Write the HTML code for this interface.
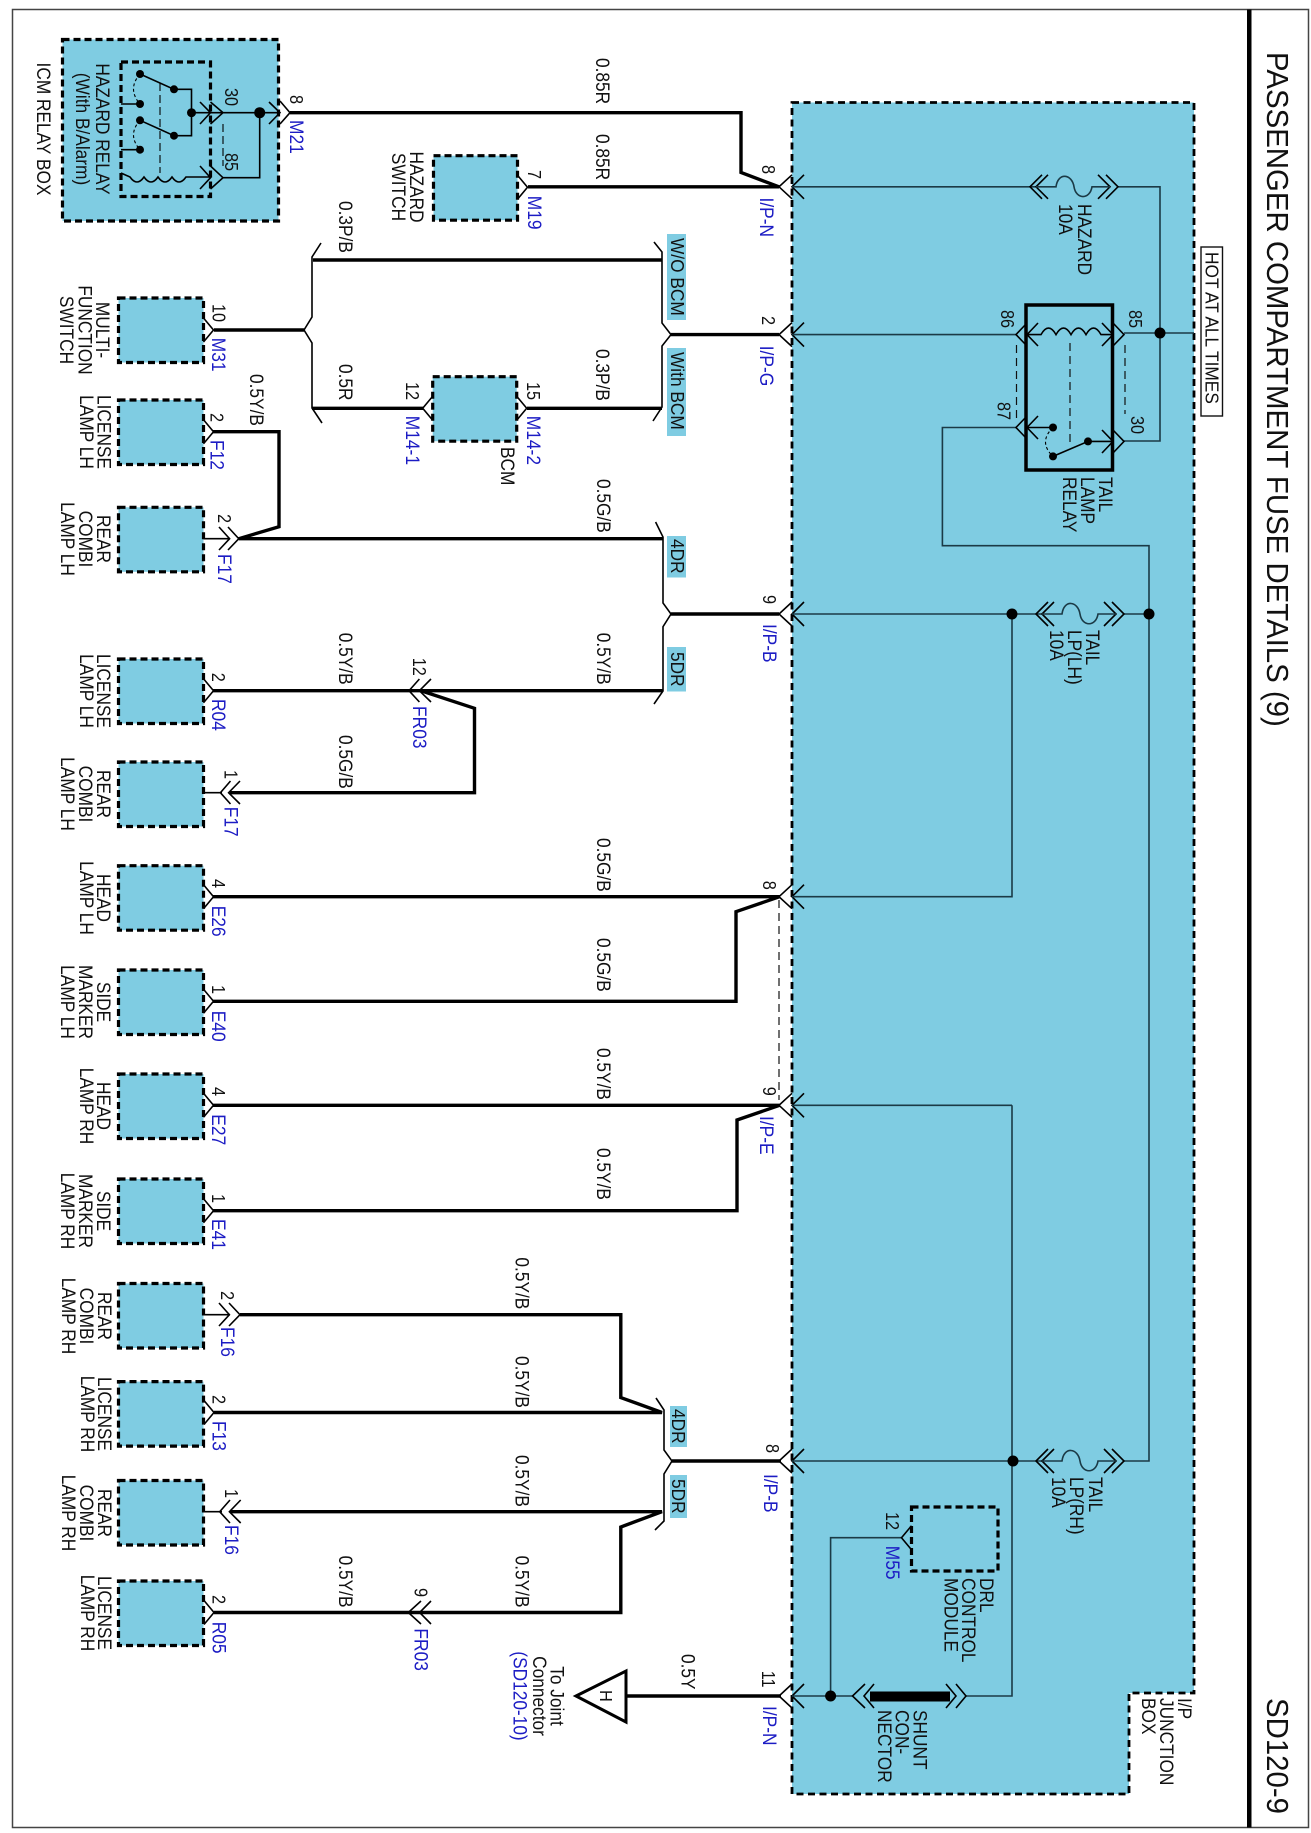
<!DOCTYPE html>
<html><head><meta charset="utf-8"><style>
html,body{margin:0;padding:0;background:#fff}
svg{display:block}
text{font-family:"Liberation Sans",sans-serif;font-size:17.3px;fill:#111}
.s{font-size:16.3px}
.b{font-size:17.4px;fill:#1c1cc4}
.m{text-anchor:middle}
.t{font-size:29.4px}
.w{fill:none;stroke:#000;stroke-width:3.4;stroke-linejoin:miter}
.c{fill:none;stroke:#000;stroke-width:1.6}
.n{fill:none;stroke:#1b3a46;stroke-width:1.6}
.h{fill:none;stroke:#111;stroke-width:1.2;stroke-dasharray:8 5}
.k{fill:none;stroke:#000;stroke-width:3.2;stroke-dasharray:7 4}
.q{fill:#7fcce2;stroke:#000;stroke-width:3.2;stroke-dasharray:7 4}
.f{fill:#7fcce2}
</style></head><body>
<svg width="1311" height="1833" viewBox="0 0 1311 1833" xmlns="http://www.w3.org/2000/svg">
<defs>
<g id="ip" class="c"><path class="c" d="M792,-12 L779,0 L792,12 M804,-12 L792,0 L804,12"/></g>
<path id="cr" class="c" d="M0,-12 L10,0 L0,12"/>
<path id="cl" class="c" d="M0,-12 L-10,0 L0,12"/>
<g id="fu">
<path class="c" d="M12,-12 L0,0 L12,12 M18,-12 L6,0 L18,12 M68,-12 L80,0 L68,12 M76,-12 L88,0 L76,12"/>
<path class="n" d="M6,0 H26 C28,-15 42,-13 44,0 C46,13 60,13 62,0 H80"/>
</g>
</defs>
<rect width="1311" height="1833" fill="#fff"/>
<rect x="12.5" y="9.5" width="1296" height="1818" fill="none" stroke="#444" stroke-width="1.5"/>
<rect x="1247" y="9.5" width="4.5" height="1818" fill="#000"/>
<text class="t" transform="matrix(0 1 -1.05 0 1267 52)">PASSENGER COMPARTMENT FUSE DETAILS (9)</text>
<text class="t" transform="matrix(0 1 -1.05 0 1267 1698)">SD120-9</text>

<!-- main box -->
<path d="M792,102.5 H1194 V1693 H1129 V1794 H792 Z" fill="#7fcce2" stroke="#000" stroke-width="2.8" stroke-dasharray="7 4.5"/>

<!-- ICM -->
<rect x="62.5" y="39.5" width="216" height="181.5" class="q"/>
<rect x="121" y="62" width="89.5" height="134.5" class="k"/>
<g fill="#000">
<circle cx="140" cy="74" r="4"/><circle cx="174" cy="89.3" r="4"/><circle cx="140" cy="104" r="4"/><circle cx="191.5" cy="112.7" r="4.5"/><circle cx="140" cy="120.3" r="4"/><circle cx="174" cy="135.7" r="4"/><circle cx="140" cy="149.7" r="4"/><circle cx="259.7" cy="112.7" r="5.5"/>
</g>
<path class="c" d="M140,74 L174,89.3 H191.5 V135.7 H174 L140,120.3 M121,104 H140 M121,149.7 H140 M191.5,112.7 H280 M223,177.7 H259.7 V112.7 M200,102 L210.5,112.7 L200,124 M210.5,102 L223,112.7 L210.5,124 M200,166 L210.5,177.7 L200,189 M210.5,166 L223,177.7 L210.5,189 M269,102 L280,112.7 L269,124 M280,101 L290,112.7 L280,124 M121,173 L130,177 q7,10 14,0 q7,10 14,0 q7,10 14,0 q7,10 14,0 H210"/>
<path fill="none" stroke="#000" stroke-width="1.1" stroke-dasharray="3 2.5" d="M140,74 Q127,89 140,104 M140,120.3 Q127,135 140,149.7"/>
<path fill="none" stroke="#000" stroke-width="1.1" stroke-dasharray="8 4" d="M160,83 V173 M223,124 V166"/>
<text class="s" transform="matrix(0 1 -1.12 0 225 88)">30</text>
<text class="s" transform="matrix(0 1 -1.12 0 225 153)">85</text>
<text class="s" transform="matrix(0 1 -1.12 0 290 95)">8</text>
<text class="b" transform="matrix(0 1 -1.12 0 290 120)">M21</text>
<text class="m" transform="matrix(0 1 -1.12 0 96 129)">HAZARD RELAY</text>
<text class="m" transform="matrix(0 1 -1.12 0 76 129)">(With B/Alarm)</text>
<text class="m" transform="matrix(0 1 -1.12 0 37 129)">ICM RELAY BOX</text>

<!-- thick wires -->
<path class="w" d="M290,112.7 H741 V172.5 L779,186.8 H528"/>
<path class="w" d="M313,260 H662"/>
<path class="w" d="M214,330 H304"/>
<path class="w" stroke-width="2.6" d="M312,408.3 H423"/>
<path class="w" d="M527,408.3 H662"/>
<path class="w" d="M671,334.6 H779"/>
<path class="w" d="M213,431.7 H279 V526.7 L238.8,538.7 H663"/>
<path class="w" d="M671,614 H779"/>
<path class="w" d="M213,690.7 H663"/>
<path class="w" d="M421,690.7 L474.5,708.3 V792.7 H230"/>
<path class="w" d="M213,896.7 H779.6 L736,911.7 V1001.3 H213"/>
<path class="w" d="M213,1105.3 H779.6 L737,1120 V1210.7 H213"/>
<path class="w" d="M240,1314.7 H620.8 V1397.6 L662,1412.5 H214"/>
<path class="w" d="M230,1511.7 H662 L620.8,1527 V1612.5 H214"/>
<path class="w" d="M672,1461 H781"/>
<path class="w" d="M626,1696 H781"/>
<path class="c" stroke-width="1.8" d="M203,538.7 H230 M203,792.7 H222 M203,1314.7 H230 M203,1511.7 H222"/>

<!-- forks -->
<path class="c" stroke-width="2" d="M321,243 L312,257 V317 L304,330 L312,343 V408 L322,423"/>
<path class="c" stroke-width="2" d="M654,242 L662,252 V323 L671,334.6 L662,346 V407 L653,421"/>
<path class="c" stroke-width="2" d="M655.6,522 L663,537 V603 L671,614 L663,626.7 V691 L654,704"/>
<path class="c" stroke-width="2" d="M656,1398 L664,1410 V1450 L672,1461 L664,1474 V1521 L655,1530"/>

<!-- tags -->
<rect x="667" y="234" width="19" height="86" class="f"/>
<rect x="667" y="348" width="19" height="88" class="f"/>
<rect x="667" y="536" width="19" height="41.5" class="f"/>
<rect x="667" y="647" width="19" height="44.5" class="f"/>
<rect x="670" y="1406" width="17" height="41" class="f"/>
<rect x="670" y="1475" width="17" height="43" class="f"/>
<text transform="matrix(0 1 -1.05 0 671 238)">W/O BCM</text>
<text transform="matrix(0 1 -1.05 0 671 352)">With BCM</text>
<text transform="matrix(0 1 -1.05 0 671 539)">4DR</text>
<text transform="matrix(0 1 -1.05 0 671 652)">5DR</text>
<text transform="matrix(0 1 -1.05 0 672 1409)">4DR</text>
<text transform="matrix(0 1 -1.05 0 672 1479)">5DR</text>

<!-- I/P connectors -->
<use href="#ip" y="186.8"/><use href="#ip" y="334.6"/><use href="#ip" y="614"/><use href="#ip" y="896.7"/><use href="#ip" y="1105.3"/><use href="#ip" y="1461"/><use href="#ip" y="1696"/>
<path class="h" d="M779,900 V1100"/>

<!-- inner thin wires -->
<path class="n" d="M792,186.8 H1036 M1118,186.8 H1160 V441 H1124 M792,334.6 H1016 M1124,333 H1194"/>
<path class="n" d="M1016,427.5 H942.4 V545.7 H1149 V1461 H1124 M792,614 H1042 M1124,614 H1149 M1012,614 V896.7 H792 M1012,1105.3 H792 M1012,1105.3 V1696 H966 M792,1461 H1042 M901,1537.7 H830.6 V1696 M792,1696 H852.5"/>
<use href="#fu" x="1030" y="186.8"/>
<use href="#fu" x="1036" y="614"/>
<use href="#fu" x="1036" y="1461"/>
<g fill="#000"><circle cx="1160" cy="333" r="5.5"/><circle cx="1012" cy="614" r="5.5"/><circle cx="1149" cy="614" r="5.5"/><circle cx="1013" cy="1461" r="5.5"/><circle cx="830.6" cy="1696" r="5.5"/><circle cx="1053" cy="427.5" r="4"/><circle cx="1053" cy="456.4" r="4"/><circle cx="1088" cy="441.4" r="4"/></g>

<!-- relay -->
<rect x="1026" y="305" width="86.5" height="165" fill="none" stroke="#000" stroke-width="3.5"/>
<path class="c" d="M1027,323 L1016,334.6 L1027,346 M1038,323 L1027,334.6 L1038,346 M1102,323 L1113,334.6 L1102,346 M1113,323 L1124,334.6 L1113,346 M1027,334.6 H1041 q7.5,-13 15,0 q7.5,-13 15,0 q7.5,-13 15,0 q7.5,-13 15,0 H1113"/>
<path class="c" d="M1027,416 L1016,427.5 L1027,439 M1038,416 L1027,427.5 L1038,439 M1027,427.5 H1053 M1053,456.4 L1088,441.4 H1113 M1102,430 L1113,441.4 L1102,453 M1113,430 L1124,441.4 L1113,453"/>
<path fill="none" stroke="#000" stroke-width="1.1" stroke-dasharray="3 2.5" d="M1053,427.5 Q1038,442 1053,456.4"/>
<path class="h" d="M1016.5,345 V420 M1070,343 V446 M1125,345 V414"/>
<text class="s" transform="matrix(0 1 -1.12 0 1129 310)">85</text>
<text class="s" transform="matrix(0 1 -1.12 0 1001 310)">86</text>
<text class="s" transform="matrix(0 1 -1.12 0 997.5 402)">87</text>
<text class="s" transform="matrix(0 1 -1.12 0 1131 416)">30</text>
<text transform="matrix(0 1 -1.12 0 1099 477)">TAIL</text>
<text transform="matrix(0 1 -1.12 0 1081 477)">LAMP</text>
<text transform="matrix(0 1 -1.12 0 1063 477)">RELAY</text>

<rect x="1201" y="247" width="21.5" height="169" fill="#fff" stroke="#111" stroke-width="1.4"/>
<text transform="matrix(0 1 -1.08 0 1205.5 252)">HOT AT ALL TIMES</text>

<text transform="matrix(0 1 -1.12 0 1078 204)">HAZARD</text>
<text transform="matrix(0 1 -1.12 0 1059 204)">10A</text>
<text transform="matrix(0 1 -1.12 0 1086 630)">TAIL</text>
<text transform="matrix(0 1 -1.12 0 1068 630)">LP(LH)</text>
<text transform="matrix(0 1 -1.12 0 1050 630)">10A</text>
<text transform="matrix(0 1 -1.12 0 1089 1477)">TAIL</text>
<text transform="matrix(0 1 -1.12 0 1070 1477)">LP(RH)</text>
<text transform="matrix(0 1 -1.12 0 1052 1477)">10A</text>

<!-- DRL -->
<rect x="911.5" y="1507" width="86.5" height="64" class="k"/>
<use href="#cl" x="911.5" y="1537.7"/>
<text class="s" transform="matrix(0 1 -1.12 0 886 1512)">12</text>
<text class="b" transform="matrix(0 1 -1.12 0 886 1545.7)">M55</text>
<text transform="matrix(0 1 -1.12 0 980 1578)">DRL</text>
<text transform="matrix(0 1 -1.12 0 962 1578)">CONTROL</text>
<text transform="matrix(0 1 -1.12 0 944.6 1578)">MODULE</text>

<!-- Shunt -->
<rect x="870" y="1691.5" width="80" height="10" fill="#000"/>
<path class="c" d="M865,1684 L852.5,1696 L865,1708 M874,1684 L864,1696 L874,1708 M946,1684 L956,1696 L946,1708 M956,1684 L966,1696 L956,1708"/>
<text transform="matrix(0 1 -1.12 0 913.7 1710)">SHUNT</text>
<text transform="matrix(0 1 -1.12 0 895.6 1710)">CON-</text>
<text transform="matrix(0 1 -1.12 0 878 1710)">NECTOR</text>
<text transform="matrix(0 1 -1.12 0 1178 1698)">I/P</text>
<text transform="matrix(0 1 -1.12 0 1160 1698)">JUNCTION</text>
<text transform="matrix(0 1 -1.12 0 1142 1698)">BOX</text>

<!-- I/P labels -->
<text class="s" transform="matrix(0 1 -1.12 0 762 165)">8</text><text class="b" transform="matrix(0 1 -1.12 0 760 197.5)">I/P-N</text>
<text class="s" transform="matrix(0 1 -1.12 0 762 316)">2</text><text class="b" transform="matrix(0 1 -1.12 0 760 345.7)">I/P-G</text>
<text class="s" transform="matrix(0 1 -1.12 0 763 595)">9</text><text class="b" transform="matrix(0 1 -1.12 0 763 624)">I/P-B</text>
<text class="s" transform="matrix(0 1 -1.12 0 763 880.7)">8</text>
<text class="s" transform="matrix(0 1 -1.12 0 763 1086.7)">9</text><text class="b" transform="matrix(0 1 -1.12 0 760 1116)">I/P-E</text>
<text class="s" transform="matrix(0 1 -1.12 0 766 1444)">8</text><text class="b" transform="matrix(0 1 -1.12 0 764 1474)">I/P-B</text>
<text class="s" transform="matrix(0 1 -1.12 0 762 1670.7)">11</text><text class="b" transform="matrix(0 1 -1.12 0 763 1706)">I/P-N</text>

<!-- wire labels -->
<text transform="matrix(0 1 -1.12 0 596 58)">0.85R</text>
<text transform="matrix(0 1 -1.12 0 596 134)">0.85R</text>
<text transform="matrix(0 1 -1.12 0 339 201)">0.3P/B</text>
<text transform="matrix(0 1 -1.12 0 339 364)">0.5R</text>
<text transform="matrix(0 1 -1.12 0 596 349)">0.3P/B</text>
<text transform="matrix(0 1 -1.12 0 250 374)">0.5Y/B</text>
<text transform="matrix(0 1 -1.12 0 597 479)">0.5G/B</text>
<text transform="matrix(0 1 -1.12 0 597 632.7)">0.5Y/B</text>
<text transform="matrix(0 1 -1.12 0 339 632.7)">0.5Y/B</text>
<text transform="matrix(0 1 -1.12 0 339 735)">0.5G/B</text>
<text transform="matrix(0 1 -1.12 0 597 838)">0.5G/B</text>
<text transform="matrix(0 1 -1.12 0 597 938)">0.5G/B</text>
<text transform="matrix(0 1 -1.12 0 597 1048)">0.5Y/B</text>
<text transform="matrix(0 1 -1.12 0 597 1148)">0.5Y/B</text>
<text transform="matrix(0 1 -1.12 0 515.6 1257.4)">0.5Y/B</text>
<text transform="matrix(0 1 -1.12 0 515.6 1356)">0.5Y/B</text>
<text transform="matrix(0 1 -1.12 0 515.6 1455)">0.5Y/B</text>
<text transform="matrix(0 1 -1.12 0 515.6 1555.6)">0.5Y/B</text>
<text transform="matrix(0 1 -1.12 0 339 1555.6)">0.5Y/B</text>
<text transform="matrix(0 1 -1.12 0 681.6 1654)">0.5Y</text>

<!-- hazard switch -->
<rect x="433.5" y="155.7" width="84" height="64.5" class="q"/>
<use href="#cr" x="517.5" y="187.3"/>
<text class="s" transform="matrix(0 1 -1.12 0 528 170)">7</text>
<text class="b" transform="matrix(0 1 -1.12 0 528 195.7)">M19</text>
<text class="m" transform="matrix(0 1 -1.12 0 410 187)">HAZARD</text>
<text class="m" transform="matrix(0 1 -1.12 0 392 187)">SWITCH</text>

<!-- BCM -->
<rect x="432.7" y="376.7" width="84" height="64.5" class="q"/>
<use href="#cl" x="432.7" y="408.3"/><use href="#cr" x="516.7" y="408.3"/>
<text class="s" transform="matrix(0 1 -1.12 0 406 382)">12</text>
<text class="b" transform="matrix(0 1 -1.12 0 406 415.7)">M14-1</text>
<text class="s" transform="matrix(0 1 -1.12 0 527 382)">15</text>
<text class="b" transform="matrix(0 1 -1.12 0 527 415.7)">M14-2</text>
<text transform="matrix(0 1 -1.12 0 501 447)">BCM</text>

<!-- left component boxes -->
<rect x="118.5" y="298" width="85" height="64.5" class="q"/>
<rect x="118.5" y="400" width="85" height="64.5" class="q"/>
<rect x="118.5" y="507.3" width="85" height="64.5" class="q"/>
<rect x="118.5" y="659" width="85" height="64.5" class="q"/>
<rect x="118.5" y="762" width="85" height="64.5" class="q"/>
<rect x="118.5" y="865.7" width="85" height="64.5" class="q"/>
<rect x="118.5" y="970" width="85" height="64.5" class="q"/>
<rect x="118.5" y="1074" width="85" height="64.5" class="q"/>
<rect x="118.5" y="1179" width="85" height="64.5" class="q"/>
<rect x="118.5" y="1283.5" width="85" height="64.5" class="q"/>
<rect x="118.5" y="1381.6" width="85" height="64.5" class="q"/>
<rect x="118.5" y="1480.5" width="85" height="64.5" class="q"/>
<rect x="118.5" y="1581" width="85" height="64.5" class="q"/>

<use href="#cr" x="203.5" y="330"/><use href="#cr" x="203.5" y="431.7"/><use href="#cr" x="203.5" y="690.7"/><use href="#cr" x="203.5" y="896.7"/><use href="#cr" x="203.5" y="1001.3"/><use href="#cr" x="203.5" y="1105.3"/><use href="#cr" x="203.5" y="1210.7"/><use href="#cr" x="204" y="1412.5"/><use href="#cr" x="204" y="1612.5"/>

<!-- double chevrons -->
<path class="c" d="M219,527 L229.6,538.7 L219,550 M228,527 L238.8,538.7 L228,550"/>
<path class="c" d="M230.5,781 L220.4,792.7 L230.5,804 M240,781 L228.6,792.7 L240,804"/>
<path class="c" d="M419.4,679 L409,690.7 L419.4,702 M431,679 L419.4,690.7 L431,702"/>
<path class="c" d="M219,1303 L229.4,1314.7 L219,1326 M229,1303 L240,1314.7 L229,1326"/>
<path class="c" d="M230,1500 L219.7,1511.7 L230,1523 M240.7,1500 L229.4,1511.7 L240.7,1523"/>
<path class="c" d="M421,1601 L408.3,1612.5 L421,1624 M431,1601 L419.6,1612.5 L431,1624"/>

<!-- pins -->
<text class="s" transform="matrix(0 1 -1.12 0 212.5 304)">10</text><text class="b" transform="matrix(0 1 -1.12 0 212 337.7)">M31</text>
<text class="s" transform="matrix(0 1 -1.12 0 210.5 413)">2</text><text class="b" transform="matrix(0 1 -1.12 0 210.5 440)">F12</text>
<text class="s" transform="matrix(0 1 -1.12 0 218 514)">2</text><text class="b" transform="matrix(0 1 -1.12 0 218 554)">F17</text>
<text class="s" transform="matrix(0 1 -1.12 0 212 672.7)">2</text><text class="b" transform="matrix(0 1 -1.12 0 212 699)">R04</text>
<text class="s" transform="matrix(0 1 -1.12 0 413 657.7)">12</text><text class="b" transform="matrix(0 1 -1.12 0 413 706)">FR03</text>
<text class="s" transform="matrix(0 1 -1.12 0 224.5 770)">1</text><text class="b" transform="matrix(0 1 -1.12 0 224.5 806.7)">F17</text>
<text class="s" transform="matrix(0 1 -1.12 0 212 879)">4</text><text class="b" transform="matrix(0 1 -1.12 0 212 905.7)">E26</text>
<text class="s" transform="matrix(0 1 -1.12 0 212 985)">1</text><text class="b" transform="matrix(0 1 -1.12 0 212 1010.7)">E40</text>
<text class="s" transform="matrix(0 1 -1.12 0 212 1087)">4</text><text class="b" transform="matrix(0 1 -1.12 0 212 1114.3)">E27</text>
<text class="s" transform="matrix(0 1 -1.12 0 212 1194)">1</text><text class="b" transform="matrix(0 1 -1.12 0 212 1219)">E41</text>
<text class="s" transform="matrix(0 1 -1.12 0 221 1291)">2</text><text class="b" transform="matrix(0 1 -1.12 0 221 1327)">F16</text>
<text class="s" transform="matrix(0 1 -1.12 0 212.5 1395)">2</text><text class="b" transform="matrix(0 1 -1.12 0 212.5 1421)">F13</text>
<text class="s" transform="matrix(0 1 -1.12 0 225 1489)">1</text><text class="b" transform="matrix(0 1 -1.12 0 225 1525)">F16</text>
<text class="s" transform="matrix(0 1 -1.12 0 212.5 1595)">2</text><text class="b" transform="matrix(0 1 -1.12 0 212.5 1621.7)">R05</text>
<text class="s" transform="matrix(0 1 -1.12 0 414.5 1588)">9</text><text class="b" transform="matrix(0 1 -1.12 0 414.5 1628.4)">FR03</text>

<!-- component names -->
<text class="m" transform="matrix(0 1 -1.12 0 96 330)">MULTI-</text><text class="m" transform="matrix(0 1 -1.12 0 78.5 330)">FUNCTION</text><text class="m" transform="matrix(0 1 -1.12 0 60 330)">SWITCH</text>
<text class="m" transform="matrix(0 1 -1.12 0 97.5 432)">LICENSE</text><text class="m" transform="matrix(0 1 -1.12 0 80 432)">LAMP LH</text>
<text class="m" transform="matrix(0 1 -1.12 0 97 539)">REAR</text><text class="m" transform="matrix(0 1 -1.12 0 79 539)">COMBI</text><text class="m" transform="matrix(0 1 -1.12 0 61 539)">LAMP LH</text>
<text class="m" transform="matrix(0 1 -1.12 0 97 691)">LICENSE</text><text class="m" transform="matrix(0 1 -1.12 0 80 691)">LAMP LH</text>
<text class="m" transform="matrix(0 1 -1.12 0 97 794)">REAR</text><text class="m" transform="matrix(0 1 -1.12 0 79 794)">COMBI</text><text class="m" transform="matrix(0 1 -1.12 0 61 794)">LAMP LH</text>
<text class="m" transform="matrix(0 1 -1.12 0 97 898)">HEAD</text><text class="m" transform="matrix(0 1 -1.12 0 80 898)">LAMP LH</text>
<text class="m" transform="matrix(0 1 -1.12 0 97 1002)">SIDE</text><text class="m" transform="matrix(0 1 -1.12 0 79 1002)">MARKER</text><text class="m" transform="matrix(0 1 -1.12 0 61 1002)">LAMP LH</text>
<text class="m" transform="matrix(0 1 -1.12 0 97 1106)">HEAD</text><text class="m" transform="matrix(0 1 -1.12 0 80 1106)">LAMP RH</text>
<text class="m" transform="matrix(0 1 -1.12 0 97 1211)">SIDE</text><text class="m" transform="matrix(0 1 -1.12 0 79 1211)">MARKER</text><text class="m" transform="matrix(0 1 -1.12 0 61 1211)">LAMP RH</text>
<text class="m" transform="matrix(0 1 -1.12 0 98 1316)">REAR</text><text class="m" transform="matrix(0 1 -1.12 0 80 1316)">COMBI</text><text class="m" transform="matrix(0 1 -1.12 0 62 1316)">LAMP RH</text>
<text class="m" transform="matrix(0 1 -1.12 0 98 1414)">LICENSE</text><text class="m" transform="matrix(0 1 -1.12 0 81 1414)">LAMP RH</text>
<text class="m" transform="matrix(0 1 -1.12 0 98 1513)">REAR</text><text class="m" transform="matrix(0 1 -1.12 0 80 1513)">COMBI</text><text class="m" transform="matrix(0 1 -1.12 0 62 1513)">LAMP RH</text>
<text class="m" transform="matrix(0 1 -1.12 0 98 1613)">LICENSE</text><text class="m" transform="matrix(0 1 -1.12 0 81 1613)">LAMP RH</text>

<!-- triangle -->
<path d="M576,1696 L626,1671 V1722 Z" fill="#fff" stroke="#000" stroke-width="3"/>
<text class="s" transform="matrix(0 1 -1.05 0 600 1690)">H</text>
<text class="m" transform="matrix(0 1 -1.12 0 550.5 1696)">To Joint</text>
<text class="m" transform="matrix(0 1 -1.12 0 533 1696)">Connector</text>
<text class="m" style="fill:#1c1cc4" transform="matrix(0 1 -1.12 0 513.5 1696)">(SD120-10)</text>
</svg>
</body></html>
